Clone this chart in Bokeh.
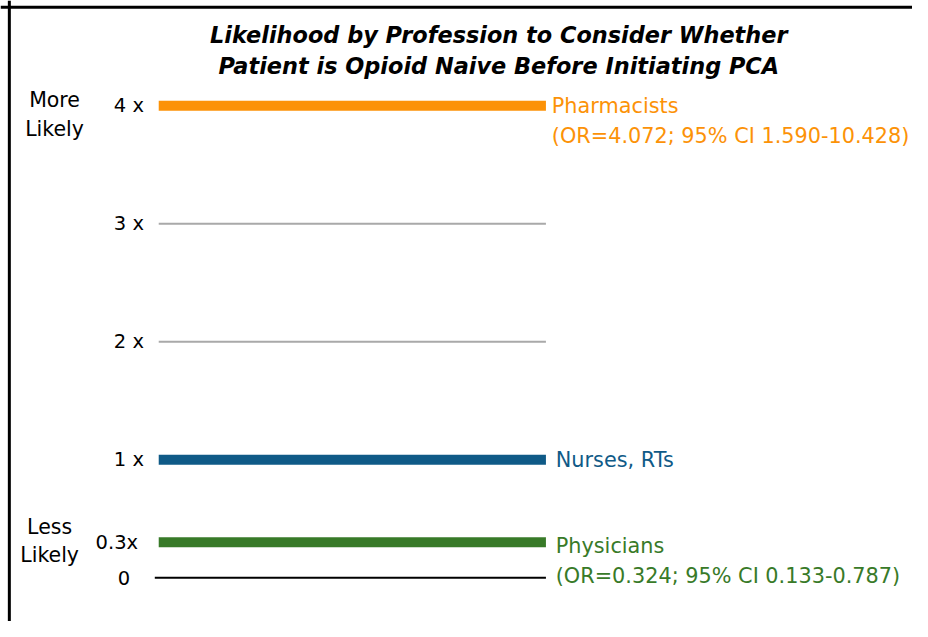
from bokeh.plotting import figure
from bokeh.models import Range1d, Span, Label
from bokeh.core.properties import value
from bokeh.embed import file_html
from bokeh.resources import INLINE

# ---- data ----
professions = ["Pharmacists", "Nurses, RTs", "Physicians"]
levels = [4.0, 1.0, 0.3]
ci_notes = ["(OR=4.072; 95% CI 1.590-10.428)", "", "(OR=0.324; 95% CI 0.133-0.787)"]
colors = ["#FC9207", "#0F5A87", "#387A28"]
grid_values = [3, 2]
tick_values = [4, 3, 2, 1, 0.3, 0]
tick_labels = ["4 x", "3 x", "2 x", "1 x", "0.3x", "0"]
title_lines = ["Likelihood by Profession to Consider Whether",
               "Patient is Opioid Naive Before Initiating PCA"]

# ---- layout ----
W, H = 912, 621
REF_W, REF_H = 928, 637
PX = 121.0          # reference pixels per unit on y
Y0 = 592.0          # reference pixel row of value 0
v_top = Y0 / PX
v_bot = (Y0 - REF_H) / PX
S = H / REF_H       # pixel scale for offsets / fonts


def fs(px):
    return f"{px * S:.1f}px"


def vy(img_y):
    return (Y0 - img_y) / PX


p = figure(width=W, height=H, output_backend="svg", toolbar_location=None,
           x_range=Range1d(0, REF_W), y_range=Range1d(v_bot, v_top),
           min_border=0, tools="")
p.axis.visible = False
p.grid.visible = False
p.outline_line_color = None
p.background_fill_color = "white"

FONT = value("DejaVu Sans")

# frame (top and left)
p.add_layout(Span(location=vy(7), dimension="width", line_color="black", line_width=3))
p.add_layout(Span(location=9, dimension="height", line_color="black", line_width=3))

X0, X1 = 161, 555
# gray reference lines
p.segment(x0=[X0] * len(grid_values), x1=[X1] * len(grid_values), y0=grid_values, y1=grid_values,
          line_color="#A9A9A9", line_width=2)
# zero line
p.segment(x0=[X0 - 4], x1=[X1], y0=[0], y1=[0], line_color="black", line_width=2)
# profession bars
p.segment(x0=[X0] * 3, x1=[X1] * 3, y0=levels, y1=levels, line_color=colors, line_width=10,
          line_cap="butt")

# tick labels
tick_x = [146, 146, 146, 146, 140, 132]
p.text(x=tick_x, y=tick_values, text=tick_labels, text_font=FONT, text_font_size=fs(20),
       text_align="right", text_baseline="middle", text_color="black")

# profession labels
lab_x = [561, 565, 565]
lab_off = [0, 0, 4 * S]
p.text(x=lab_x, y=levels, text=professions, text_font=FONT, text_font_size=fs(21.3),
       text_align="left", text_baseline="middle", text_color=colors, y_offset=lab_off)
p.text(x=lab_x, y=levels, text=ci_notes, text_font=FONT, text_font_size=fs(21.3),
       text_align="left", text_baseline="middle", text_color=colors,
       y_offset=[o + 31 * S for o in lab_off])

# More / Less likely
p.text(x=[55, 55], y=[vy(102), vy(132)], text=["More", "Likely"], text_font=FONT,
       text_font_size=fs(21), text_align="center", text_baseline="middle")
p.text(x=[50, 50], y=[vy(540), vy(569)], text=["Less", "Likely"], text_font=FONT,
       text_font_size=fs(21), text_align="center", text_baseline="middle")

# title
for t, yy in zip(title_lines, [35, 67]):
    p.add_layout(Label(x=507, y=vy(yy), text=t,
                       text_font="DejaVu Sans", text_font_size=fs(23),
                       text_font_style="bold italic", text_align="center",
                       text_baseline="middle", text_color="black"))

open("out.html", "w").write(file_html(p, INLINE))
